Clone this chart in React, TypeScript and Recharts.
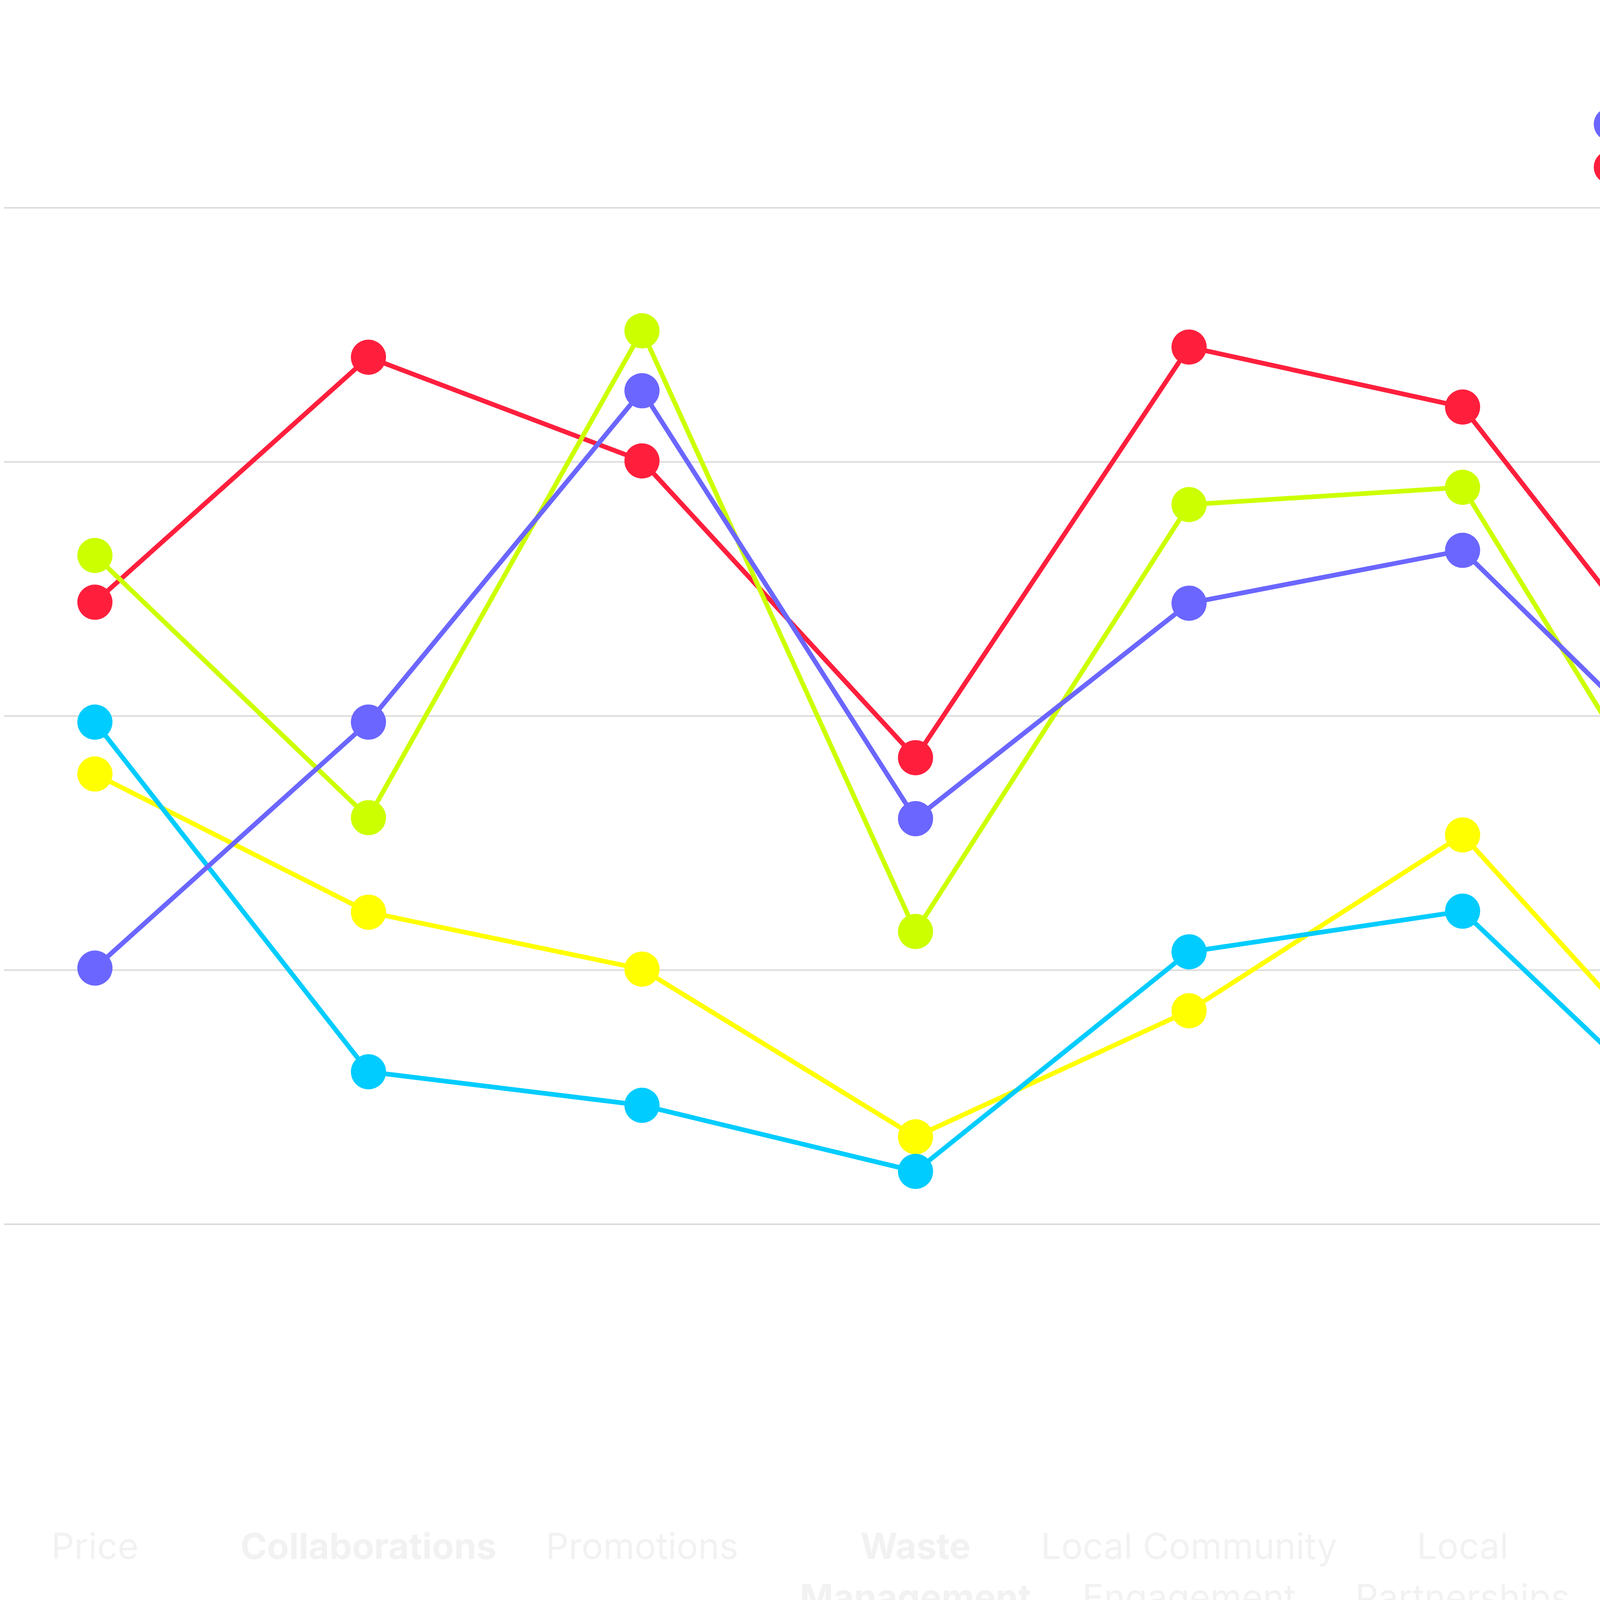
import React from 'react';
import { LineChart, Line, XAxis, YAxis, CartesianGrid } from 'recharts';

const categories = [
  'Price',
  'Collaborations',
  'Promotions',
  'Waste Management',
  'Local Community Engagement',
  'Local Partnerships',
  'Sustainability Efforts',
  'Transparency',
  'Future plans',
];
const boldCategories = ['Collaborations', 'Waste Management', 'Sustainability Efforts'];

const andBoyond = [25.2, 49.4, 82.0, 39.9, 61.1, 66.3, 39.9, 76.9, 59.3];
const discoverCorps = [49.4, 15.0, 11.7, 5.2, 26.8, 30.8, 5.2, 1.6, 28.9];
const experienceTravelGroup = [44.3, 30.7, 25.1, 8.6, 21.0, 38.3, 8.6, 1.2, null];
const interpid = [61.2, 85.3, 75.1, 45.9, 86.3, 80.4, 45.9, 90.3, 86.9];
const contiki = [65.8, 40.0, 87.9, 28.8, 70.8, 72.5, 28.8, null, 67.4];
const contikiBend = { x: 6.53, value: 51.8 };

const yTicks = [0, 25, 50, 75, 100];
const xTicks = categories.map((_, i) => i);

type Pt = { x: number; value: number };
const toPoints = (vals: (number | null)[]): Pt[] =>
  vals
    .map((v, i) => ({ x: i, value: v as number }))
    .filter((p) => p.value !== null && p.value !== undefined);

const contikiPoints = [...toPoints(contiki), contikiBend].sort((a, b) => a.x - b.x);

const series = {
  andBoyond: { name: 'AndBoyond', color: '#6B66FF', data: toPoints(andBoyond) },
  discoverCorps: { name: 'Discover Corps', color: '#00CCFF', data: toPoints(discoverCorps) },
  experience: { name: 'Experience Travel Group', color: '#FFFF00', data: toPoints(experienceTravelGroup) },
  interpid: { name: 'Interpid', color: '#FF1F3D', data: toPoints(interpid) },
  contiki: { name: 'Contiki', color: '#CCFF00', data: contikiPoints },
};

const legendOrder = [series.andBoyond, series.discoverCorps, series.experience, series.interpid, series.contiki];
const drawOrder = [series.interpid, series.contiki, series.experience, series.discoverCorps, series.andBoyond];

const TEXT = '#f2f2f2';
const FONT = 'Inter, "Noto Sans", sans-serif';

const wrapLabel = (label: string, maxChars: number): string[] => {
  const words = label.split(' ');
  const lines: string[] = [];
  let cur = '';
  for (const w of words) {
    const next = cur ? cur + ' ' + w : w;
    if (next.length > maxChars && cur) {
      lines.push(cur);
      cur = w;
    } else {
      cur = next;
    }
  }
  if (cur) lines.push(cur);
  return lines;
};

const CategoryTick = (props: any) => {
  const { x, y, payload } = props;
  const label = categories[payload.value];
  if (!label) return null;
  const lines = wrapLabel(label, 15);
  const bold = boldCategories.includes(label);
  return (
    <text
      x={x}
      y={y}
      textAnchor="middle"
      fill={TEXT}
      fontFamily={FONT}
      fontSize={92}
      fontWeight={bold ? 700 : 400}
    >
      {lines.map((l, i) => (
        <tspan key={i} x={x} dy={i === 0 ? 857 : 131}>
          {l}
        </tspan>
      ))}
    </text>
  );
};

const makeDot = (color: string) => (props: any) => {
  const { cx, cy, payload, index } = props;
  if (!payload || !Number.isInteger(payload.x) || cx == null || cy == null) {
    return <g key={`e-${index}`} />;
  }
  return <circle key={`d-${index}`} cx={cx} cy={cy} r={45} fill={color} stroke="none" />;
};

export default function App() {
  return (
    <div
      style={{
        position: 'absolute',
        left: 0,
        top: 0,
        width: 6257,
        height: 4500,
        background: '#ffffff',
        overflow: 'hidden',
      }}
    >
      <div style={{ position: 'absolute', left: 0, top: 0 }}>
        <LineChart width={6257} height={4500} margin={{ top: 532, right: 22, bottom: 366, left: 10 }}>
          <CartesianGrid vertical={false} stroke="#dcdcdc" strokeWidth={4} horizontalValues={yTicks} />
          <XAxis
            type="number"
            dataKey="x"
            domain={[0, 8]}
            ticks={xTicks}
            interval={0}
            padding={{ left: 233, right: 390 }}
            axisLine={false}
            tickLine={false}
            tickSize={0}
            tickMargin={0}
            height={1000}
            tick={<CategoryTick />}
          />
          <YAxis hide type="number" domain={[0, 100]} ticks={yTicks} />
          {drawOrder.map((s) => (
            <Line
              key={s.name}
              data={s.data}
              dataKey="value"
              name={s.name}
              type="linear"
              stroke={s.color}
              strokeWidth={12}
              dot={makeDot(s.color)}
              activeDot={false}
              isAnimationActive={false}
            />
          ))}
        </LineChart>
      </div>
      <div
        style={{
          position: 'absolute',
          left: 4080,
          top: 268,
          display: 'grid',
          gridTemplateColumns: '700px 818px 660px',
          gridAutoRows: '110px',
          fontFamily: FONT,
          fontSize: 82,
          lineHeight: '100px',
          color: TEXT,
        }}
      >
        {legendOrder.map((s) => (
          <div key={s.name} style={{ display: 'flex', alignItems: 'flex-start', minWidth: 0 }}>
            <span
              style={{
                width: 86,
                height: 86,
                borderRadius: '50%',
                background: s.color,
                marginTop: 7,
                flexShrink: 0,
                display: 'inline-block',
              }}
            />
            <span style={{ marginLeft: 54, flex: '1 1 auto', minWidth: 0 }}>{s.name}</span>
          </div>
        ))}
      </div>
    </div>
  );
}
